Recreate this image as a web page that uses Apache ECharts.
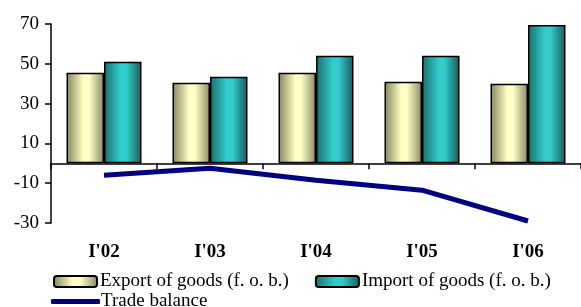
<!DOCTYPE html>
<html>
<head>
<meta charset="utf-8">
<script src="https://cdn.jsdelivr.net/npm/echarts@6/dist/echarts.min.js"></script>
<style>
  html, body { margin: 0; padding: 0; background: #fff; }
  #chart { width: 581px; height: 307px; }
</style>
</head>
<body>
<div id="chart"></div>
<script>
var categories = ["I'02", "I'03", "I'04", "I'05", "I'06"]
var exportGoods = [45.5, 40.5, 45.5, 41, 40]
var importGoods = [51, 43.5, 54, 54, 69.5]
var tradeBalance = [-6, -2.5, -8.5, -13.5, -29]

var serif = 'Liberation Serif'

function barGrad(dark, light, dark2) {
  return new echarts.graphic.LinearGradient(0, 0, 1, 0, [
    { offset: 0, color: dark },
    { offset: 0.45, color: light },
    { offset: 0.6, color: light },
    { offset: 1, color: dark2 }
  ])
}

var chart = echarts.init(document.getElementById('chart'))
chart.setOption({
  animation: false,
  grid: { left: 51, top: 24, width: 537, height: 199 },
  legend: [
    {
      left: 48, top: 267,
      itemWidth: 43, itemHeight: 11, itemGap: 26,
      textStyle: { fontFamily: serif, fontSize: 19, color: '#000', padding: [0, 0, 0, -2] },
      data: ['Export of goods (f. o. b.)', 'Import of goods (f. o. b.)']
    },
    {
      left: 46, top: 287,
      itemWidth: 49, itemHeight: 5,
      textStyle: { fontFamily: serif, fontSize: 19, color: '#000', padding: [0, 0, 0, -4] },
      data: [{ name: 'Trade balance', icon: 'roundRect', itemStyle: { color: '#000080' } }]
    }
  ],
  xAxis: [
    {
      type: 'category',
      data: categories,
      axisLine: { onZero: true, lineStyle: { color: '#000', width: 1.5 } },
      axisTick: { show: true, length: 6, inside: false, lineStyle: { color: '#000', width: 1.5 } },
      axisLabel: { show: false }
    },
    {
      type: 'category',
      data: categories,
      position: 'bottom',
      axisLine: { show: false, onZero: false },
      axisTick: { show: false },
      axisLabel: {
        margin: 20,
        fontFamily: serif, fontSize: 19, fontWeight: 'bold', color: '#000'
      }
    }
  ],
  yAxis: {
    type: 'value',
    min: -30, max: 70, interval: 20,
    splitLine: { show: false },
    axisLine: { show: true, onZero: false, lineStyle: { color: '#000', width: 1.5 } },
    axisTick: { show: true, length: 6, lineStyle: { color: '#000', width: 1.5 } },
    axisLabel: { margin: 12, fontFamily: serif, fontSize: 19, color: '#000' }
  },
  series: [
    {
      name: 'Export of goods (f. o. b.)',
      type: 'bar',
      barWidth: 37.5,
      barGap: '0%',
      data: exportGoods,
      itemStyle: {
        color: barGrad('#85855f', '#ffffc6', '#8a8a66'),
        borderColor: '#000', borderWidth: 1.5
      }
    },
    {
      name: 'Import of goods (f. o. b.)',
      type: 'bar',
      barWidth: 37.5,
      barGap: '0%',
      data: importGoods,
      itemStyle: {
        color: barGrad('#1a6e6e', '#33cccc', '#1a5a5a'),
        borderColor: '#000', borderWidth: 1.5
      }
    },
    {
      name: 'Trade balance',
      type: 'line',
      symbol: 'none',
      data: tradeBalance,
      lineStyle: { color: '#000080', width: 5 },
      itemStyle: { color: '#000080' }
    }
  ]
})
</script>
</body>
</html>
